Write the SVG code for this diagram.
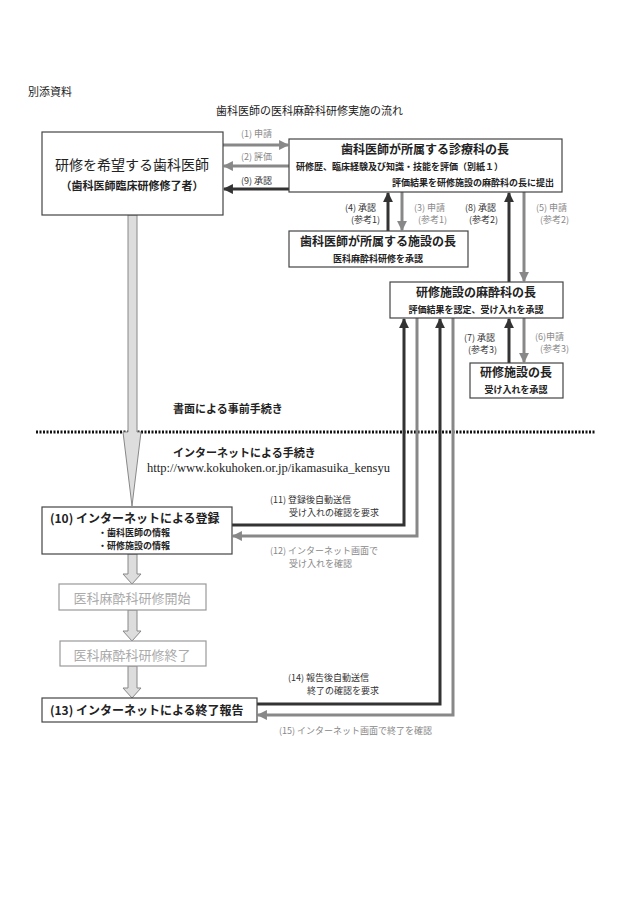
<svg xmlns="http://www.w3.org/2000/svg" width="630" height="916" viewBox="0 0 630 916">
<style>
text{font-family:"Noto Sans CJK JP","Noto Sans",sans-serif;fill:#222}
text.serif{font-family:"Liberation Serif","Noto Sans CJK JP",serif}
.box{fill:#fff;stroke:#444;stroke-width:1.2}
.lbox{fill:#fff;stroke:#999;stroke-width:1.2}
.g{fill:#888}
.d{fill:#333}
.lg{fill:#aaa}
.dk{stroke:#333;stroke-width:3;fill:none}
.gr{stroke:#888;stroke-width:3;fill:none}
.blk{fill:#ddd;stroke:#888;stroke-width:1}
.s{font-size:9px}
</style>
<defs>
<marker id="ad" viewBox="0 0 10 10" refX="9" refY="5" markerWidth="3.3" markerHeight="3.3" orient="auto"><path d="M0,0L10,5L0,10z" fill="#333"/></marker>
<marker id="ag" viewBox="0 0 10 10" refX="9" refY="5" markerWidth="3.3" markerHeight="3.3" orient="auto"><path d="M0,0L10,5L0,10z" fill="#888"/></marker>
</defs>
<rect width="630" height="916" fill="#fff"/>
<text class="serif" x="28" y="96" font-size="11">別添資料</text>
<text class="serif" x="216" y="115" font-size="11">歯科医師の医科麻酔科研修実施の流れ</text>
<text x="173" y="413" font-size="11" font-weight="bold">書面による事前手続き</text>
<line x1="36" y1="432" x2="596" y2="432" stroke="#111" stroke-width="3" stroke-dasharray="2,1.5"/>
<text x="173" y="457" font-size="11" font-weight="bold">インターネットによる手続き</text>
<text class="serif" x="147" y="472" font-size="12" textLength="243" lengthAdjust="spacingAndGlyphs">http://www.kokuhoken.or.jp/ikamasuika_kensyu</text>

<g id="connectors">
<path class="blk" d="M128,215H137V432H141L132,506L123,432H128Z"/>
<path class="blk" d="M128,554H137V574H141L132,584L123,574H128Z"/>
<path class="blk" d="M128,610H137V631H141L132,641L123,631H128Z"/>
<path class="blk" d="M128,666H137V688H141L132,698L123,688H128Z"/>
<line class="gr" x1="223" y1="145" x2="288" y2="145" marker-end="url(#ag)"/>
<line class="gr" x1="289" y1="166" x2="224" y2="166" marker-end="url(#ag)"/>
<line class="dk" x1="289" y1="189" x2="224" y2="189" marker-end="url(#ad)"/>
<line class="dk" x1="388" y1="231" x2="388" y2="193" marker-end="url(#ad)"/>
<line class="gr" x1="402" y1="192" x2="402" y2="230" marker-end="url(#ag)"/>
<line class="dk" x1="509" y1="282" x2="509" y2="193" marker-end="url(#ad)"/>
<line class="gr" x1="524" y1="192" x2="524" y2="281" marker-end="url(#ag)"/>
<line class="dk" x1="509" y1="363" x2="509" y2="319" marker-end="url(#ad)"/>
<line class="gr" x1="524" y1="318" x2="524" y2="362" marker-end="url(#ag)"/>
<path class="dk" d="M232,525H404V319" marker-end="url(#ad)"/>
<path class="gr" d="M417,318V536H233" marker-end="url(#ag)"/>
<path class="dk" d="M257,704H440V319" marker-end="url(#ad)"/>
<path class="gr" d="M453,318V715H258" marker-end="url(#ag)"/>
</g>
<g font-size="9">
<text class="g s" x="241" y="137">(1) 申請</text>
<text class="g s" x="241" y="160">(2) 評価</text>
<text class="d s" x="241" y="184">(9) 承認</text>
<text class="d s" x="376" y="211" text-anchor="end">(4) 承認</text>
<text class="d s" x="380" y="223" text-anchor="end">(参考1)</text>
<text class="g s" x="414" y="211">(3) 申請</text>
<text class="g s" x="418" y="223">(参考1)</text>
<text class="d s" x="465" y="211">(8) 承認</text>
<text class="d s" x="469" y="223">(参考2)</text>
<text class="g s" x="536" y="211">(5) 申請</text>
<text class="g s" x="540" y="223">(参考2)</text>
<text class="d s" x="464" y="341">(7) 承認</text>
<text class="d s" x="468" y="353">(参考3)</text>
<text class="g s" x="535" y="340">(6)申請</text>
<text class="g s" x="540" y="352">(参考3)</text>
<text class="d s" x="270" y="503">(11) 登録後自動送信</text>
<text class="d s" x="289" y="516">受け入れの確認を要求</text>
<text class="g s" x="270" y="554">(12) インターネット画面で</text>
<text class="g s" x="289" y="567">受け入れを確認</text>
<text class="d s" x="288" y="681">(14) 報告後自動送信</text>
<text class="d s" x="307" y="694">終了の確認を要求</text>
<text class="g s" x="279" y="734">(15) インターネット画面で終了を確認</text>
</g>

<g id="n-dentist"><rect class="box" x="42" y="132" width="181" height="83"/>
<text x="132" y="170" font-size="14" text-anchor="middle">研修を希望する歯科医師</text>
<text x="132" y="190" font-size="11" font-weight="bold" text-anchor="middle">（歯科医師臨床研修修了者）</text></g>
<g id="n-dept"><rect class="box" x="289" y="139" width="273" height="53"/>
<text x="425" y="154" font-size="12" font-weight="bold" text-anchor="middle">歯科医師が所属する診療科の長</text>
<text x="296" y="170" class="s" font-weight="bold">研修歴、臨床経験及び知識・技能を評価（別紙１）</text>
<text x="554" y="186" class="s" font-weight="bold" text-anchor="end">評価結果を研修施設の麻酔科の長に提出</text></g>
<g id="n-facility"><rect class="box" x="289" y="231" width="179" height="36"/>
<text x="378" y="246" font-size="12" font-weight="bold" text-anchor="middle">歯科医師が所属する施設の長</text>
<text x="378" y="262" class="s" font-weight="bold" text-anchor="middle">医科麻酔科研修を承認</text></g>
<g id="n-anes"><rect class="box" x="390" y="282" width="173" height="36"/>
<text x="476" y="297" font-size="12" font-weight="bold" text-anchor="middle">研修施設の麻酔科の長</text>
<text x="476" y="313" class="s" font-weight="bold" text-anchor="middle">評価結果を認定、受け入れを承認</text></g>
<g id="n-train"><rect class="box" x="470" y="363" width="93" height="35"/>
<text x="516" y="377" font-size="12" font-weight="bold" text-anchor="middle">研修施設の長</text>
<text x="516" y="393" class="s" font-weight="bold" text-anchor="middle">受け入れを承認</text></g>
<g id="n-reg"><rect class="box" x="42" y="507" width="190" height="47"/>
<text x="50" y="523" font-size="12" font-weight="bold">(10) インターネットによる登録</text>
<text x="98" y="536" class="s" font-weight="bold">・歯科医師の情報</text>
<text x="98" y="549" class="s" font-weight="bold">・研修施設の情報</text></g>
<g id="n-start"><rect class="lbox" x="59" y="584" width="147" height="26"/>
<text x="132" y="603" font-size="13" class="lg" text-anchor="middle">医科麻酔科研修開始</text></g>
<g id="n-end"><rect class="lbox" x="60" y="641" width="146" height="25"/>
<text x="132" y="660" font-size="13" class="lg" text-anchor="middle">医科麻酔科研修終了</text></g>
<g id="n-report"><rect class="box" x="42" y="698" width="215" height="24"/>
<text x="50" y="715" font-size="12" font-weight="bold">(13) インターネットによる終了報告</text></g>
</svg>
